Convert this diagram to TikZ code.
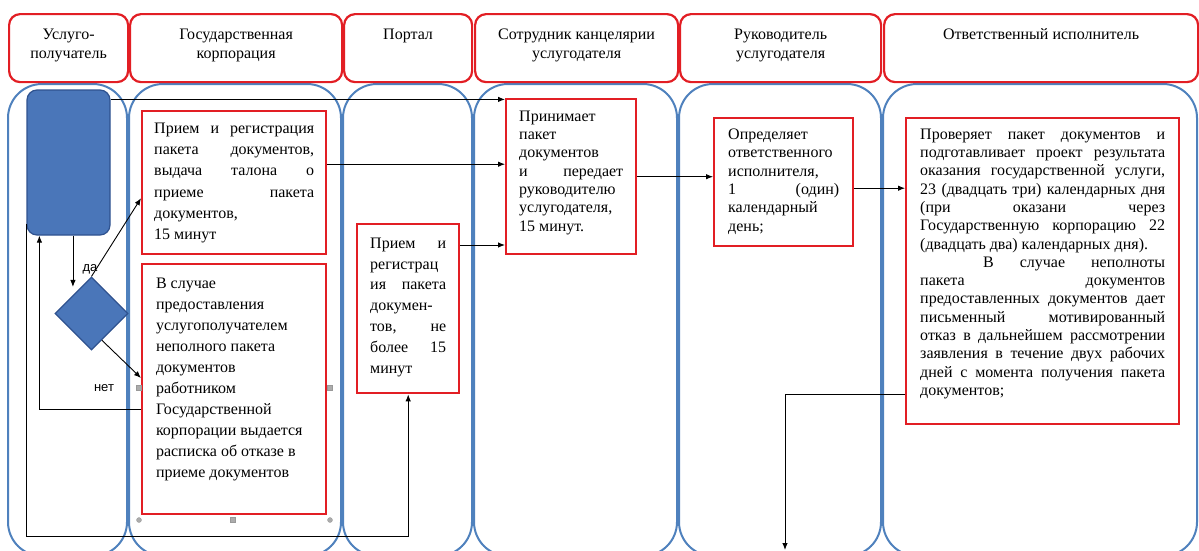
\documentclass[tikz,border=0pt]{standalone}
\usepackage{fontspec}
\setmainfont{Liberation Serif}
\newfontfamily\lsans{Liberation Sans}
\usetikzlibrary{shapes.geometric,arrows.meta,calc}
\definecolor{lanec}{RGB}{79,129,189}
\definecolor{redc}{RGB}{226,30,36}
\definecolor{startc}{RGB}{74,118,185}
\definecolor{startb}{RGB}{47,82,143}
\newcommand\J[1]{\makebox[\linewidth][s]{#1}\par}
\newcommand\Lf[1]{#1\par}
\newcommand\bx[4]{\parbox[t][#2][t]{#1}{\fontsize{16}{#3}\selectfont\rule{0pt}{12pt}#4}}
\newcommand\hx[3]{\parbox[t][#2][t]{#1}{\centering\fontsize{16}{19}\selectfont\rule{0pt}{12pt}#3}}
\tikzset{
  lane/.style={draw=lanec, line width=2pt, rounded corners=34pt},
  hdr/.style={draw=redc, line width=2.2pt, rounded corners=11pt, fill=white, anchor=north west, inner xsep=0pt, inner ysep=13pt},
  rbox/.style={draw=redc, line width=2.4pt, fill=white, anchor=north west},
  startbox/.style={rectangle, rounded corners=10pt, fill=startc, draw=startb, line width=1.2pt, minimum width=83pt, minimum height=145pt, inner sep=0pt},
  decbox/.style={diamond, aspect=1, fill=startc, draw=startb, line width=1.2pt, minimum width=73pt, minimum height=73pt, inner sep=0pt},
  lbl/.style={font=\lsans\fontsize{13}{15}\selectfont, inner sep=0pt},
  arr/.style={-{Latex[length=7pt,width=5.5pt]}, line width=0.9pt, black},
  hnd/.style={fill=gray!65, draw=gray!80, line width=0.3pt}
}
\begin{document}
\begin{tikzpicture}[x=1pt,y=-1pt]
\useasboundingbox (0,0) rectangle (1199,550);
\begin{scope}
\clip (0,0) rectangle (1199,550);
\foreach \a/\b in {8/127,129/341,343/472,474/677,679/881,883/1197}
  \draw[lane] (\a,84) rectangle (\b,556);
\end{scope}
% headers
\node[hdr] (h1) at (8,13) {\hx{119pt}{42pt}{Услуго-\\получатель}};
\node[hdr] (h2) at (129,13) {\hx{212pt}{42pt}{Государственная\\корпорация}};
\node[hdr] (h3) at (343,13) {\hx{128pt}{42pt}{Портал}};
\node[hdr] (h4) at (474,13) {\hx{203pt}{42pt}{Сотрудник канцелярии\\услугодателя}};
\node[hdr] (h5) at (679,13) {\hx{201pt}{42pt}{Руководитель\\услугодателя}};
\node[hdr] (h6) at (883,13) {\hx{314pt}{42pt}{Ответственный исполнитель}};
% shapes
\node[startbox] (start) at (68.5,162.5) {};
\node[decbox] (dec) at (91.5,313.5) {};
\node[rbox, inner xsep=12pt, inner ysep=10pt] (box1) at (141,110) {\bx{160pt}{123pt}{21.3pt}{%
\J{Прием и регистрация}%
\J{пакета документов,}%
\J{выдача талона о}%
\J{приеме пакета}%
\Lf{документов,}%
\Lf{15 минут}}};
\node[rbox, line width=2pt, inner xsep=14pt, inner ysep=12pt] (box2) at (141,263) {\bx{156pt}{226pt}{21.1pt}{%
\Lf{В случае}%
\Lf{предоставления}%
\Lf{услугополучателем}%
\Lf{неполного пакета}%
\Lf{документов}%
\Lf{работником}%
\Lf{Государственной}%
\Lf{корпорации выдается}%
\Lf{расписка об отказе в}%
\Lf{приеме документов}}};
\node[rbox, inner xsep=13pt, inner ysep=12pt] (portal) at (356,223) {\bx{76pt}{145pt}{20.8pt}{%
\J{Прием и}%
\Lf{регистрац}%
\J{ия пакета}%
\Lf{докумен-}%
\J{тов, не}%
\J{более 15}%
\Lf{минут}}};
\node[rbox, inner xsep=13pt, inner ysep=10pt] (sotr) at (505,98) {\bx{104pt}{135pt}{18.3pt}{%
\Lf{Принимает}%
\Lf{пакет}%
\Lf{документов}%
\J{и передает}%
\Lf{руководителю}%
\Lf{услугодателя,}%
\Lf{15 минут.}}};
\node[rbox, inner xsep=14pt, inner ysep=9pt] (ruk) at (713,117) {\bx{111pt}{110pt}{18.4pt}{%
\Lf{Определяет}%
\Lf{ответственного}%
\Lf{исполнителя,}%
\J{1 (один)}%
\Lf{календарный}%
\Lf{день;}}};
\node[rbox, inner xsep=14pt, inner ysep=9pt] (otv) at (905,117) {\bx{245pt}{288pt}{18.3pt}{%
\J{Проверяет пакет документов и}%
\J{подготавливает проект результата}%
\J{оказания государственной услуги,}%
\J{23 (двадцать три) календарных дня}%
\J{(при оказани через}%
\J{Государственную корпорацию 22}%
\Lf{(двадцать два) календарных дня).}%
\J{\hspace*{63pt}В случае неполноты}%
\J{пакета документов}%
\J{предоставленных документов дает}%
\J{письменный мотивированный}%
\J{отказ в дальнейшем рассмотрении}%
\J{заявления в течение двух рабочих}%
\J{дней с момента получения пакета}%
\Lf{документов;}}};
% selection handles of box2
\fill[hnd] (136.5,385.5) rectangle ++(5,5);
\fill[hnd] (327.5,385.5) rectangle ++(5,5);
\fill[hnd] (230.5,517.5) rectangle ++(5,5);
\fill[hnd] (139,520) circle (2.5pt);
\fill[hnd] (330,520) circle (2.5pt);
% labels
\node[lbl] (da) at (90,269) {да};
\node[lbl] (net) at (104,388) {нет};
% connectors
\draw[arr, shorten >=8pt] (start.south -| dec.north west) -- (dec.north west);
\draw[arr] (dec.north) -- ([yshift=-15.5pt]box1.west);
\draw[arr] ($(dec.east)!0.72!(dec.south)$) -- ([yshift=11pt]box2.west);
\draw[arr] ([yshift=-20pt]box2.west) -| ([xshift=13pt]start.south west);
\draw[arr] ([yshift=12pt]start.south west) -- ++(0,313) -| (portal.south);
\draw[arr] ([yshift=-10pt]start.north east) -- ([yshift=-10pt]start.north east -| sotr.west);
\draw[arr] ([yshift=18.5pt]box1.east) -- ([yshift=18.5pt]box1.east -| sotr.west);
\draw[arr] ([yshift=-22pt]portal.north east) -- ([yshift=-22pt]portal.north east -| sotr.west);
\draw[arr] (sotr.east) -- (sotr.east -| ruk.west);
\draw[arr] ([yshift=-6pt]ruk.east) -- ([yshift=-6pt]ruk.east -| otv.west);
\coordinate (endc) at (785,550);
\draw[arr] ([yshift=31pt]otv.south west) -| (endc);
\end{tikzpicture}
\end{document}
